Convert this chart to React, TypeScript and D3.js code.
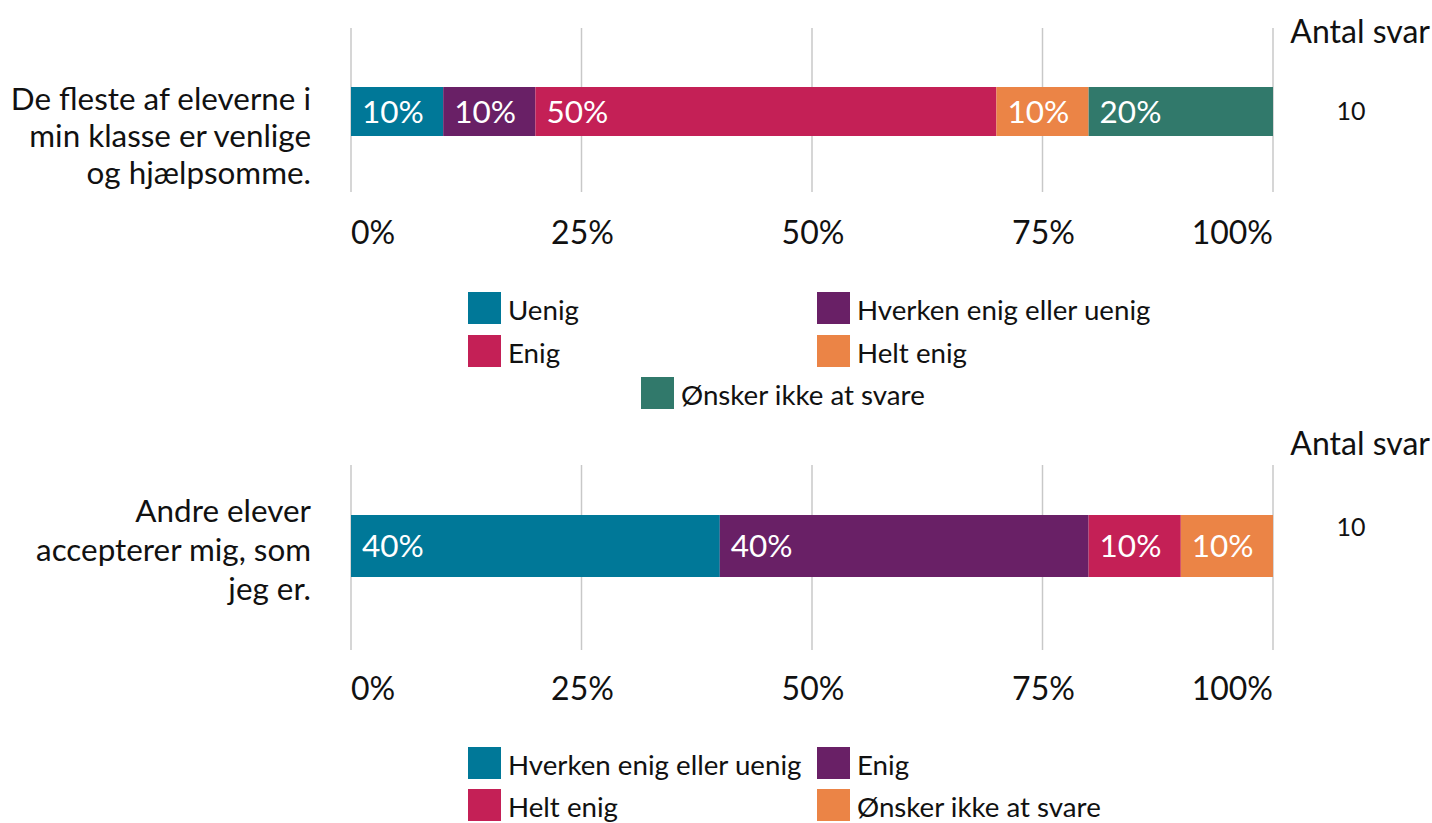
import * as d3 from "d3";

// Chart 1
const question1 = ["De fleste af eleverne i", "min klasse er venlige", "og hjælpsomme."];
const answers1 = ["Uenig", "Hverken enig eller uenig", "Enig", "Helt enig", "Ønsker ikke at svare"];
const values1 = [10, 10, 50, 10, 20];
const count1 = 10;

// Chart 2
const question2 = ["Andre elever", "accepterer mig, som", "jeg er."];
const answers2 = ["Hverken enig eller uenig", "Enig", "Helt enig", "Ønsker ikke at svare"];
const values2 = [40, 40, 10, 10];
const count2 = 10;

const tickValues = [0, 25, 50, 75, 100];
const palette = ["#007898", "#692066", "#C42056", "#EB8446", "#31796B"];

const FONT = "Lato, 'Open Sans', sans-serif";
const W = 1432;
const H = 823;

const x = d3.scaleLinear().domain([0, 100]).range([351, 1273]);

type PanelLayout = {
  top: number; // grid top
  bottom: number; // grid bottom
  barTop: number;
  barH: number;
  tickY: number;
  headY: number;
  countY: number;
  qBaselines: number[];
  legendRows: number[];
};

function Panel({
  question,
  answers,
  values,
  count,
  L,
}: {
  question: string[];
  answers: string[];
  values: number[];
  count: number;
  L: PanelLayout;
}) {
  const stacked = d3.cumsum(values);
  const segs = values.map((v, i) => ({
    v,
    start: stacked[i] - v,
    end: stacked[i],
    color: palette[i],
    label: answers[i],
  }));

  // legend: two columns, odd last item centered
  const colX = [468, 817];
  const legendItems = answers.map((a, i) => {
    const row = Math.floor(i / 2);
    const lastOdd = answers.length % 2 === 1 && i === answers.length - 1;
    const sx = lastOdd ? 641 : colX[i % 2];
    return { a, color: palette[i], sx, sy: L.legendRows[row] };
  });

  return (
    <g>
      {tickValues.map((t) => (
        <line
          key={"g" + t}
          x1={x(t)}
          x2={x(t)}
          y1={L.top}
          y2={L.bottom}
          stroke="#c8c8c8"
          strokeWidth={1.5}
        />
      ))}
      {segs.map((s, i) => (
        <g key={"s" + i}>
          <rect
            x={x(s.start)}
            y={L.barTop}
            width={x(s.end) - x(s.start)}
            height={L.barH}
            fill={s.color}
          />
          <text
            x={x(s.start) + 11}
            y={L.barTop + L.barH / 2 + 11}
            fill="#fff"
            fontSize={31.5}
          >
            {d3.format(".0f")(s.v) + "%"}
          </text>
        </g>
      ))}
      {tickValues.map((t, i) => (
        <text
          key={"t" + t}
          x={i === 0 ? x(t) : i === tickValues.length - 1 ? x(t) : x(t) + 1}
          y={L.tickY}
          fontSize={32}
          fill="#111"
          textAnchor={i === 0 ? "start" : i === tickValues.length - 1 ? "end" : "middle"}
        >
          {t + "%"}
        </text>
      ))}
      {question.map((q, i) => (
        <text key={"q" + i} x={311} y={L.qBaselines[i]} fontSize={31.4} fill="#111" textAnchor="end">
          {q}
        </text>
      ))}
      <text x={1430} y={L.headY} fontSize={32} fill="#111" textAnchor="end">
        Antal svar
      </text>
      <text x={1351} y={L.countY} fontSize={25} fill="#111" textAnchor="middle">
        {count}
      </text>
      {legendItems.map((it, i) => (
        <g key={"l" + i}>
          <rect x={it.sx} y={it.sy} width={33} height={32} fill={it.color} />
          <text x={it.sx + 40} y={it.sy + 28} fontSize={27.7} fill="#111">
            {it.a}
          </text>
        </g>
      ))}
    </g>
  );
}

export default function App() {
  const L1: PanelLayout = {
    top: 28,
    bottom: 192,
    barTop: 87,
    barH: 49,
    tickY: 244,
    headY: 43,
    countY: 120,
    qBaselines: [110, 147, 184],
    legendRows: [292, 335, 377],
  };
  const L2: PanelLayout = {
    top: 465,
    bottom: 650,
    barTop: 515,
    barH: 62,
    tickY: 700,
    headY: 455,
    countY: 536,
    qBaselines: [522, 561, 600],
    legendRows: [747, 789],
  };
  return (
    <svg
      width={W}
      height={H}
      style={{ position: "absolute", left: 0, top: 0, background: "#fff" }}
      fontFamily={FONT}
    >
      <Panel question={question1} answers={answers1} values={values1} count={count1} L={L1} />
      <Panel question={question2} answers={answers2} values={values2} count={count2} L={L2} />
    </svg>
  );
}
